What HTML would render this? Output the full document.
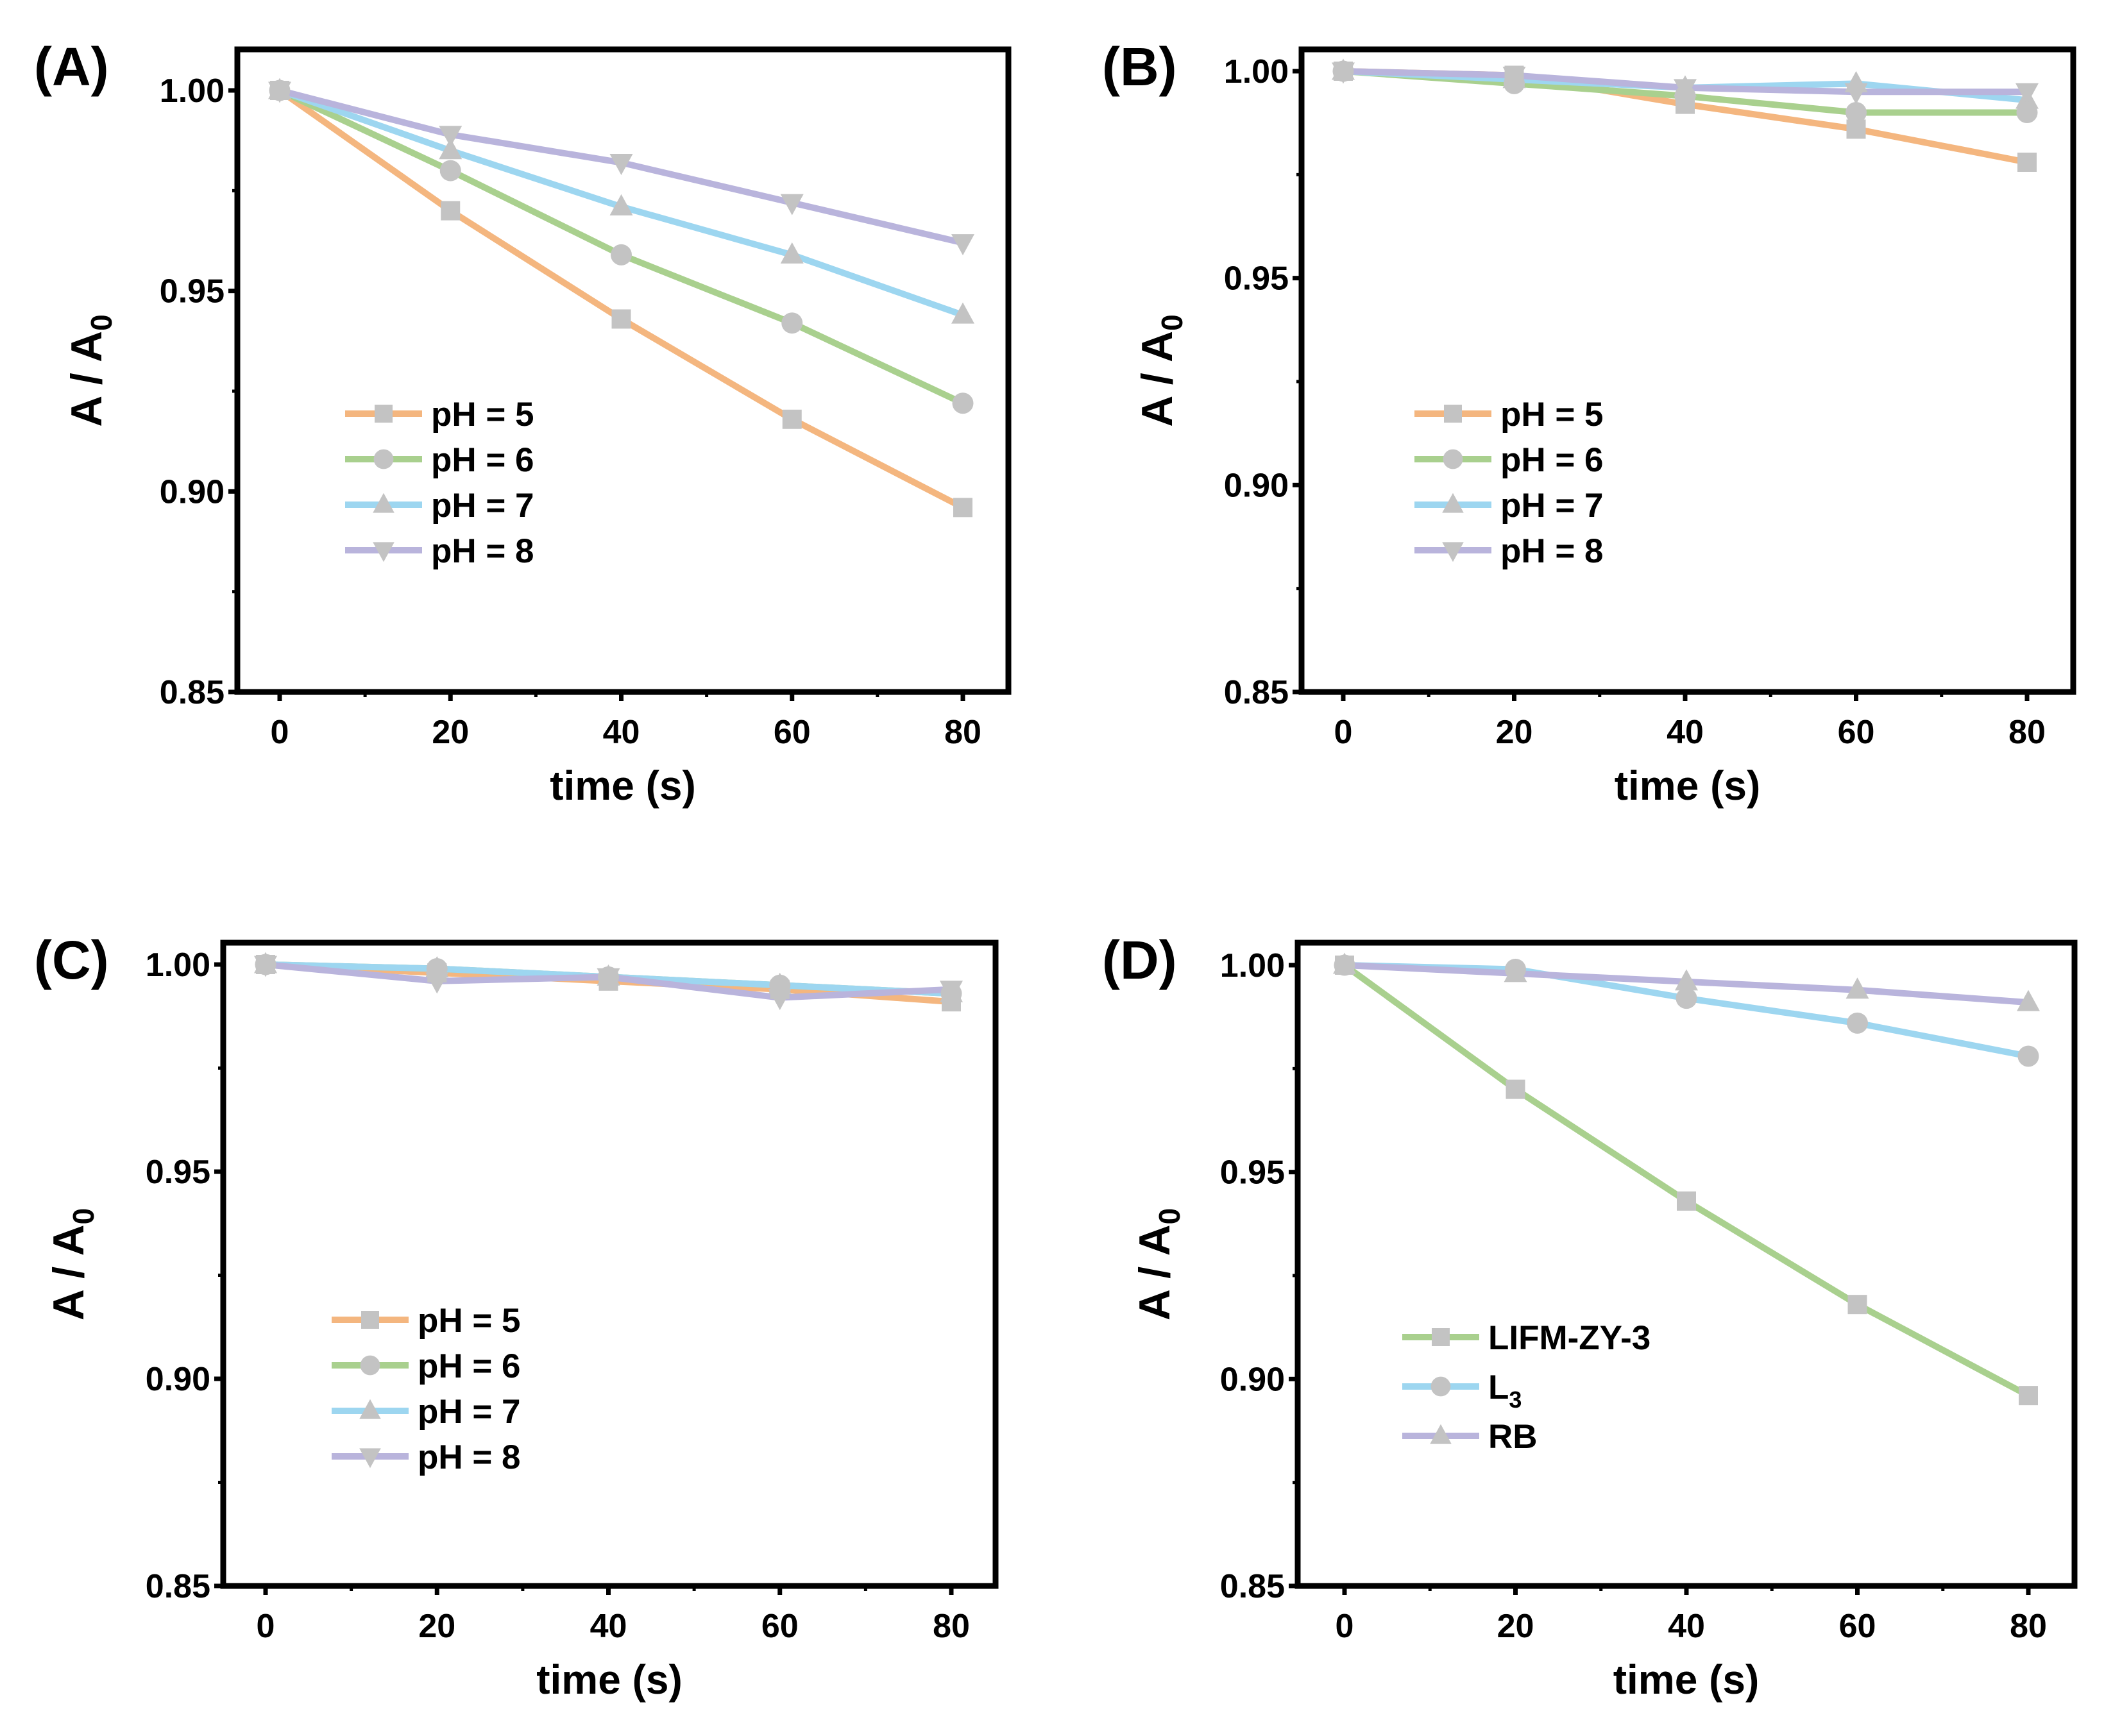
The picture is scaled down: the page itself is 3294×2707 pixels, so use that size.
<!DOCTYPE html>
<html><head><meta charset="utf-8"><style>
html,body{margin:0;padding:0;background:#fff;}
svg{display:block;font-family:"Liberation Sans",Arial,sans-serif;font-weight:bold;}
</style></head><body>
<svg id="fig" width="3294" height="2707" viewBox="0 0 3294 2707" xmlns="http://www.w3.org/2000/svg"></svg>
<script>
const xCats = [0, 20, 40, 60, 80];
const xTickLabels = ["0", "20", "40", "60", "80"];
const yTickVals = [0.85, 0.90, 0.95, 1.00];
const yTickLabels = ["0.85", "0.90", "0.95", "1.00"];
const phNames = ["pH = 5", "pH = 6", "pH = 7", "pH = 8"];
const dNames = ["LIFM-ZY-3", "L3", "RB"];
const aPH5 = [1, 0.970, 0.943, 0.918, 0.896];
const aPH6 = [1, 0.980, 0.959, 0.942, 0.922];
const aPH7 = [1, 0.985, 0.971, 0.959, 0.944];
const aPH8 = [1, 0.989, 0.982, 0.972, 0.962];
const bPH5 = [1, 0.999, 0.992, 0.986, 0.978];
const bPH6 = [1, 0.997, 0.994, 0.990, 0.990];
const bPH7 = [1, 0.998, 0.996, 0.997, 0.993];
const bPH8 = [1, 0.999, 0.996, 0.995, 0.995];
const cPH5 = [1, 0.998, 0.996, 0.994, 0.991];
const cPH6 = [1, 0.999, 0.997, 0.995, 0.993];
const cPH7 = [1, 0.999, 0.997, 0.995, 0.993];
const cPH8 = [1, 0.996, 0.997, 0.992, 0.994];
const dLIFM = [1, 0.970, 0.943, 0.918, 0.896];
const dL3 = [1, 0.999, 0.992, 0.986, 0.978];
const dRB = [1, 0.998, 0.996, 0.994, 0.991];

const NS = "http://www.w3.org/2000/svg";
const svg = document.getElementById('fig');
function mk(tag, attrs, parent, text){
  const e = document.createElementNS(NS, tag);
  for (const k in attrs) e.setAttribute(k, attrs[k]);
  if (text !== undefined) e.textContent = text;
  (parent || svg).appendChild(e);
  return e;
}
const ORANGE="#f4b67f", GREEN="#a9d08e", BLUE="#9dd6f0", PURPLE="#b9b4dc", MK="#c3c3c3";

function marker(g, type, x, y, s){
  let e;
  if (type==='sq') e = mk('rect',{x:x-s,y:y-s,width:2*s,height:2*s,fill:MK},g);
  else if (type==='ci') e = mk('circle',{cx:x,cy:y,r:s*1.1,fill:MK},g);
  else if (type==='up') e = mk('polygon',{points:`${x},${y-s*1.3} ${x+s*1.2},${y+s*0.9} ${x-s*1.2},${y+s*0.9}`,fill:MK},g);
  else e = mk('polygon',{points:`${x},${y+s*1.3} ${x+s*1.2},${y-s*0.9} ${x-s*1.2},${y-s*0.9}`,fill:MK},g);
  
  
}

function panel(cfg){
  const g = mk('g',{});
  
  
  const X = v => cfg.x0 + (v - 0) / 80 * (cfg.x80 - cfg.x0);
  const Y = v => cfg.y85 + (v - 0.85) / 0.15 * (cfg.y100 - cfg.y85);
  cfg.series.forEach((s, i) => {
    const pts = xCats.map((c, j) => X(c) + ',' + Y(s.data[j])).join(' ');
    const pl = mk('polyline',{points:pts,fill:'none',stroke:s.color,'stroke-width':10,'stroke-linejoin':'round'},g);
    
    
  });
  cfg.series.forEach(s => xCats.forEach((c, j) => marker(g, s.m, X(c), Y(s.data[j]), 15)));
  const fr = mk('rect',{x:cfg.L,y:cfg.T,width:cfg.R-cfg.L,height:cfg.B-cfg.T,fill:'none',stroke:'#000','stroke-width':9},g);
  
  
  yTickVals.forEach((v, i) => {
    const y = Y(v);
    mk('line',{x1:cfg.L-14,x2:cfg.L,y1:y,y2:y,stroke:'#000','stroke-width':7},g);
    const t = mk('text',{x:cfg.L-20,y:y+18,'text-anchor':'end','font-size':52},g,yTickLabels[i]);
    
    
  });
  [0.875,0.925,0.975].forEach(v=>{const y=Y(v);mk('line',{x1:cfg.L-8,x2:cfg.L,y1:y,y2:y,stroke:'#000','stroke-width':5},g);});
  xCats.forEach((c, i) => {
    const x = X(c);
    mk('line',{x1:x,x2:x,y1:cfg.B,y2:cfg.B+14,stroke:'#000','stroke-width':7},g);
    const t = mk('text',{x:x,y:cfg.B+80,'text-anchor':'middle','font-size':52},g,xTickLabels[i]);
    
    
  });
  [10,30,50,70].forEach(c=>{const x=X(c);mk('line',{x1:x,x2:x,y1:cfg.B,y2:cfg.B+8,stroke:'#000','stroke-width':5},g);});
  const xt = mk('text',{x:(cfg.L+cfg.R)/2,y:cfg.B+168,'text-anchor':'middle','font-size':64},g,'time (s)');
  
  
  const yc = (cfg.T+cfg.B)/2;
  const yt = mk('text',{x:cfg.yx,y:yc,'text-anchor':'middle','font-size':68,transform:`rotate(-90 ${cfg.yx} ${yc})`},g);
  
  
  mk('tspan',{},yt,'A / A');
  mk('tspan',{'font-size':46,dy:16},yt,'0');
  const pl = mk('text',{x:cfg.lx,y:cfg.T+56,'font-size':84},g,'(' + cfg.letter + ')');
  
  
  cfg.series.forEach((s, i) => {
    const ly = cfg.legY + i * cfg.legDy;
    const lg = mk('g',{},g);
    
    
    mk('line',{x1:cfg.legX,x2:cfg.legX+120,y1:ly,y2:ly,stroke:s.color,'stroke-width':10},lg);
    marker(lg, s.m, cfg.legX+60, ly, 14);
    const t = mk('text',{x:cfg.legX+134,y:ly+19,'font-size':53},lg);
    if (s.name === 'L3'){ mk('tspan',{},t,'L'); mk('tspan',{'font-size':36,dy:14},t,'3'); }
    else t.textContent = s.name;
  });
}
const mk4 = ['sq','ci','up','dn'];
panel({letter:'A',lx:53,L:370,R:1572,T:77,B:1079,x0:436,x80:1501,y100:141,y85:1079,yx:158,legX:538,legY:645,legDy:71,
  series:[aPH5,aPH6,aPH7,aPH8].map((d,i)=>({data:d,color:[ORANGE,GREEN,BLUE,PURPLE][i],m:mk4[i],name:phNames[i]}))});
panel({letter:'B',lx:1718,L:2029,R:3232,T:77,B:1079,x0:2094,x80:3160,y100:111,y85:1079,yx:1827,legX:2205,legY:645,legDy:71,
  series:[bPH5,bPH6,bPH7,bPH8].map((d,i)=>({data:d,color:[ORANGE,GREEN,BLUE,PURPLE][i],m:mk4[i],name:phNames[i]}))});
panel({letter:'C',lx:53,L:348,R:1552,T:1470,B:2473,x0:414,x80:1483,y100:1504,y85:2473,yx:130,legX:517,legY:2058,legDy:71,
  series:[cPH5,cPH6,cPH7,cPH8].map((d,i)=>({data:d,color:[ORANGE,GREEN,BLUE,PURPLE][i],m:mk4[i],name:phNames[i]}))});
panel({letter:'D',lx:1718,L:2023,R:3234,T:1470,B:2473,x0:2096,x80:3162,y100:1505,y85:2473,yx:1823,legX:2186,legY:2085,legDy:77,
  series:[dLIFM,dL3,dRB].map((d,i)=>({data:d,color:[GREEN,BLUE,PURPLE][i],m:['sq','ci','up'][i],name:dNames[i]}))});
</script>
</body></html>
